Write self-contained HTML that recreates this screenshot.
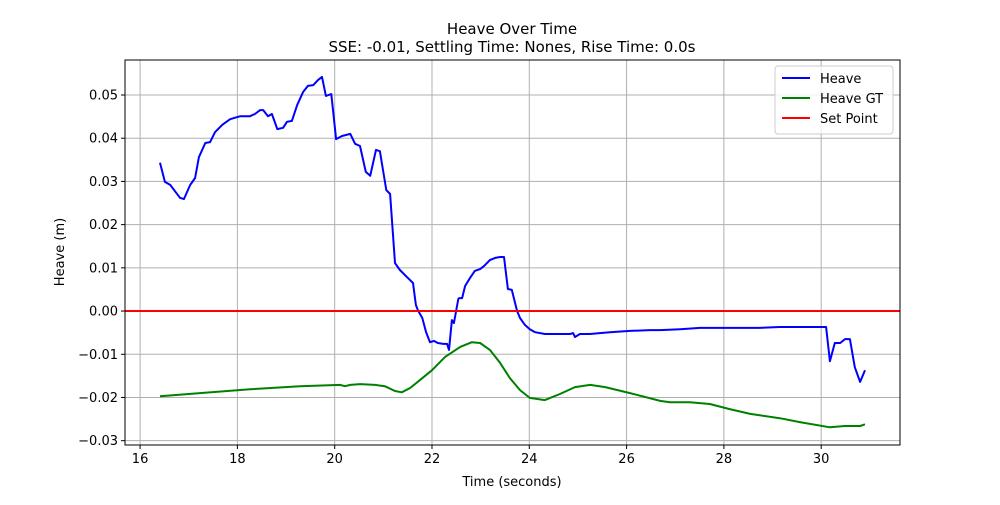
<!DOCTYPE html>
<html><head><meta charset="utf-8"><style>
body{margin:0;background:#fff}
svg{font-family:"DejaVu Sans","Liberation Sans",sans-serif}
</style></head><body>
<svg id="chart" width="1000" height="500" xmlns="http://www.w3.org/2000/svg">
<rect width="1000" height="500" fill="#fff"/>
<g id="grid"></g><g id="series"></g><g id="axes"></g>
</svg>
<script>
const blueT=[16.41,16.51,16.62,16.82,16.90,17.03,17.13,17.21,17.34,17.44,17.54,17.69,17.85,18.06,18.26,18.36,18.47,18.53,18.63,18.71,18.82,18.94,19.02,19.12,19.23,19.35,19.45,19.56,19.66,19.74,19.82,19.93,20.03,20.15,20.32,20.42,20.52,20.64,20.73,20.85,20.93,21.06,21.14,21.24,21.34,21.51,21.61,21.67,21.71,21.80,21.88,21.96,22.04,22.12,22.23,22.31,22.35,22.41,22.45,22.54,22.56,22.62,22.68,22.78,22.88,22.99,23.07,23.19,23.30,23.40,23.48,23.56,23.64,23.75,23.81,23.91,24.01,24.12,24.32,24.63,24.84,24.90,24.94,25.04,25.25,25.45,25.66,26.07,26.48,26.69,27.10,27.51,27.92,28.33,28.74,29.15,29.97,30.10,30.18,30.28,30.39,30.49,30.59,30.69,30.80,30.90];
const blueV=[.0343,.0299,.0292,.0262,.0259,.0292,.0308,.0356,.0389,.0391,.0414,.0431,.0444,.0451,.0451,.0456,.0465,.0465,.0451,.0456,.0421,.0424,.0438,.0440,.0477,.0507,.0521,.0523,.0535,.0542,.0498,.0502,.0398,.0405,.0410,.0387,.0382,.0322,.0313,.0373,.0370,.0280,.0271,.0111,.0095,.0076,.0065,.0014,.0002,-.0016,-.0049,-.0072,-.0069,-.0074,-.0076,-.0076,-.0090,-.0021,-.0028,.0028,.0030,.0030,.0058,.0076,.0093,.0097,.0104,.0118,.0123,.0125,.0125,.0051,.0049,0,-.0016,-.0032,-.0042,-.0049,-.0053,-.0053,-.0053,-.0051,-.0060,-.0053,-.0053,-.0051,-.0049,-.0046,-.0044,-.0044,-.0042,-.0039,-.0039,-.0039,-.0039,-.0037,-.0037,-.0037,-.0116,-.0074,-.0074,-.0065,-.0065,-.0130,-.0164,-.0137,-.0111];
const greenT=[16.41,17.23,18.26,19.29,20.11,20.21,20.32,20.52,20.83,21.03,21.24,21.38,21.55,21.75,22.00,22.27,22.58,22.82,22.99,23.19,23.40,23.60,23.81,24.01,24.32,24.63,24.94,25.25,25.56,26.07,26.69,26.89,27.30,27.71,28.12,28.54,29.15,29.56,30.18,30.49,30.80,30.90];
const greenV=[-.0197,-.0190,-.0181,-.0174,-.0171,-.0174,-.0171,-.0169,-.0171,-.0174,-.0185,-.0188,-.0178,-.0160,-.0137,-.0106,-.0083,-.0072,-.0074,-.0090,-.0120,-.0155,-.0183,-.0201,-.0206,-.0192,-.0176,-.0171,-.0176,-.0190,-.0208,-.0211,-.0211,-.0215,-.0227,-.0238,-.0248,-.0257,-.0269,-.0266,-.0266,-.0262];
const setPoint=0;
const xTicks=[16,18,20,22,24,26,28,30];
const yTicks=[0.05,0.04,0.03,0.02,0.01,0,-0.01,-0.02,-0.03];
const yTickLabels=["0.05","0.04","0.03","0.02","0.01","0.00","−0.01","−0.02","−0.03"];

const L=125,R=900,T=60,B=445;
const xMin=15.69,xMax=31.62,yMin=-0.0310,yMax=0.0581;
const sx=t=>L+(t-xMin)/(xMax-xMin)*(R-L);
const sy=v=>B-(v-yMin)/(yMax-yMin)*(B-T);
const NS="http://www.w3.org/2000/svg";
function mk(tag,attrs,parent,text){const e=document.createElementNS(NS,tag);for(const k in attrs)e.setAttribute(k,attrs[k]);if(text!==undefined)e.textContent=text;parent.appendChild(e);return e;}
const grid=document.getElementById('grid'),series=document.getElementById('series'),axes=document.getElementById('axes');

xTicks.forEach((t,i)=>{
  const x=sx(t);
  const g=mk('line',{x1:x,x2:x,y1:T,y2:B,stroke:'#b0b0b0','stroke-width':1},grid);
  
  const tk=mk('line',{x1:x,x2:x,y1:B,y2:B+4,stroke:'#000'},axes);
  
  const lb=mk('text',{x:x,y:B+18,'text-anchor':'middle','font-size':13},axes,String(t));
  
});
yTicks.forEach((v,i)=>{
  const y=sy(v);
  const g=mk('line',{x1:L,x2:R,y1:y,y2:y,stroke:'#b0b0b0','stroke-width':1},grid);
  
  const tk=mk('line',{x1:L-4,x2:L,y1:y,y2:y,stroke:'#000'},axes);
  
  const lb=mk('text',{x:L-7,y:y+4.5,'text-anchor':'end','font-size':13},axes,yTickLabels[i]);
  
});

function line(ts,vs,color,name){
  const p=mk('polyline',{points:ts.map((t,i)=>sx(t).toFixed(1)+','+sy(vs[i]).toFixed(1)).join(' '),fill:'none',stroke:color,'stroke-width':2,'stroke-linejoin':'round'},series);
  
}
line(blueT,blueV,'#0000ff','heave-line');
line(greenT,greenV,'#008000','heave-gt-line');
const sp=mk('line',{x1:L,x2:R,y1:sy(setPoint),y2:sy(setPoint),stroke:'#ff0000','stroke-width':2},series);


const fr=mk('rect',{x:L,y:T,width:R-L,height:B-T,fill:'none',stroke:'#000','stroke-width':1},axes);

let t1=mk('text',{x:512,y:34,'text-anchor':'middle','font-size':15},axes,'Heave Over Time');

let t2=mk('text',{x:512,y:52,'text-anchor':'middle','font-size':15},axes,'SSE: -0.01, Settling Time: Nones, Rise Time: 0.0s');

let xl=mk('text',{x:512,y:486,'text-anchor':'middle','font-size':13},axes,'Time (seconds)');

let yl=mk('text',{x:64,y:252,'text-anchor':'middle','font-size':13,transform:'rotate(-90 64 252)'},axes,'Heave (m)');


const lg=mk('g',{},axes);

mk('rect',{x:775,y:66,width:118,height:68,rx:3,fill:'#fff','fill-opacity':0.8,stroke:'#cccccc'},lg);
[['Heave','#0000ff'],['Heave GT','#008000'],['Set Point','#ff0000']].forEach((e,i)=>{
  const y=78+i*20;
  const g=mk('g',{},lg);
  
  mk('line',{x1:782,x2:810,y1:y,y2:y,stroke:e[1],'stroke-width':2},g);
  mk('text',{x:820,y:y+5,'font-size':13},g,e[0]);
});
</script>
</body></html>
